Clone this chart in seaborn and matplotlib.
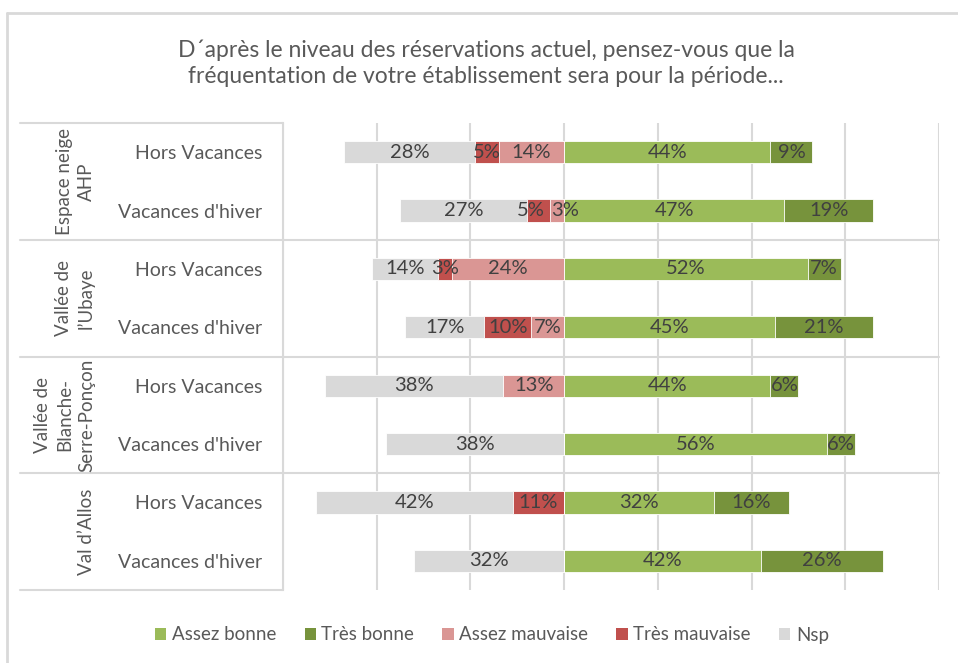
import numpy as np
import pandas as pd
import matplotlib
matplotlib.use('Agg')
import matplotlib.pyplot as plt
import matplotlib.transforms as mtransforms
from matplotlib.patches import Patch
import seaborn as sns

# data (percent)
periods = ["Hors Vacances", "Vacances d'hiver"] * 4
groups = ["Espace neige\nAHP", "Vallée de\nl’Ubaye", "Vallée de\nBlanche-\nSerre-Ponçon", "Val d’Allos"]
assez_bonne = [44, 47, 52, 45, 44, 56, 32, 42]
tres_bonne = [9, 19, 7, 21, 6, 6, 16, 26]
assez_mauvaise = [14, 3, 24, 7, 13, 0, 0, 0]
tres_mauvaise = [5, 5, 3, 10, 0, 0, 11, 0]
nsp = [28, 27, 14, 17, 38, 38, 42, 32]

title = "D´après le niveau des réservations actuel, pensez-vous que la\nfréquentation de votre établissement sera pour la période..."

colors = {
    "Assez bonne": "#9BBB59",
    "Très bonne": "#77933C",
    "Assez mauvaise": "#DA9694",
    "Très mauvaise": "#C0504D",
    "Nsp": "#D9D9D9",
}

sns.set_theme(style="white")
plt.rcParams['font.family'] = ['Lato', 'DejaVu Sans']

W, H = 958, 663
fig = plt.figure(figsize=(W / 100, H / 100), dpi=100)

def fx(px):
    return px / W

def fy(py):
    return 1 - py / H

ax = fig.add_axes([fx(283), fy(590), fx(939) - fx(283), fy(123) - fy(590)])

df = pd.DataFrame({
    "row": list(range(len(periods))),
    "ab": assez_bonne, "tb": tres_bonne,
    "am": assez_mauvaise, "tm": tres_mauvaise, "nsp": nsp,
})
df["pos_total"] = df["ab"] + df["tb"]
df["neg_am"] = -df["am"]
df["neg_tm"] = -(df["am"] + df["tm"])
df["neg_all"] = -(df["am"] + df["tm"] + df["nsp"])

# overlapping cumulative bars -> stacked look
layers = [
    ("pos_total", "Très bonne"),
    ("ab", "Assez bonne"),
    ("neg_all", "Nsp"),
    ("neg_tm", "Très mauvaise"),
    ("neg_am", "Assez mauvaise"),
]
for col, name in layers:
    sns.barplot(data=df, x=col, y="row", orient="h", color=colors[name],
                saturation=1, width=0.38, edgecolor="white", linewidth=0.6, ax=ax)

# segment labels, pushed apart a little when two small ones collide
lab_kw = dict(ha="center", va="center", fontsize=14.5, color="#404040")
char_w = 2.4  # rough label width per character, in % units
for i, r in df.iterrows():
    segs = [
        (r["neg_all"], -(r["am"] + r["tm"])),
        (-(r["am"] + r["tm"]), -r["am"]),
        (-r["am"], 0),
        (0, r["ab"]),
        (r["ab"], r["ab"] + r["tb"]),
    ]
    labs = [[(a + b) / 2, f"{int(round(b - a))}%"] for a, b in segs if b - a > 0]
    for j in range(1, len(labs)):
        need = (len(labs[j - 1][1]) + len(labs[j][1])) * char_w / 2 + 2.5
        gap = labs[j][0] - labs[j - 1][0]
        if gap < need - 0.5:
            shift = (need - gap) / 2
            labs[j - 1][0] -= shift
            labs[j][0] += shift
    for xc, txt in labs:
        ax.text(xc, i, txt, **lab_kw)

ax.set_xlim(-60, 80)
ax.set_ylim(len(periods) - 0.5, -0.5)
ax.set_xticks(np.arange(-60, 81, 20))
ax.set_xticklabels([])
ax.tick_params(axis="x", length=0)
ax.set_yticks(range(len(periods)))
ax.set_yticklabels(periods, fontsize=14, color="#595959")
ax.tick_params(axis="y", length=0, pad=15)
ax.set_xlabel("")
ax.set_ylabel("")
ax.grid(axis="x", color="#D9D9D9", linewidth=1.5)
ax.set_axisbelow(True)
for s in ["top", "right", "bottom"]:
    ax.spines[s].set_visible(False)
ax.spines["left"].set_color("#D9D9D9")
ax.spines["left"].set_linewidth(1.5)

# table-like separators on the category axis
tr = mtransforms.blended_transform_factory(fig.transFigure, ax.transData)
line_kw = dict(color="#D9D9D9", linewidth=1.5, clip_on=False, transform=tr)
for yv in [-0.5, len(periods) - 0.5]:
    ax.plot([fx(20), fx(283)], [yv, yv], **line_kw)
for yv in [1.5, 3.5, 5.5]:
    ax.plot([fx(20), fx(939)], [yv, yv], **line_kw)

# group labels
for k, g in enumerate(groups):
    yc = ax.transData.transform((0, 2 * k + 0.5))[1]
    fig.text(fx(95), yc / H, g, rotation=90, ha="right", va="center",
             multialignment="center", fontsize=13.5, color="#595959", linespacing=1.35)

fig.text(fx(486), fy(63), title, ha="center", va="center", fontsize=16.5,
         color="#595959", linespacing=1.3)

order = ["Assez bonne", "Très bonne", "Assez mauvaise", "Très mauvaise", "Nsp"]
handles = [Patch(facecolor=colors[n], edgecolor="none", label=n) for n in order]
leg = fig.legend(handles=handles, loc="center", bbox_to_anchor=(fx(492), fy(635)),
                 ncol=5, frameon=False, fontsize=13.5, handlelength=0.6, handleheight=0.6,
                 handletextpad=0.3, columnspacing=1.5)
for t in leg.get_texts():
    t.set_color("#595959")

# outer chart border (top/left visible in the reference)
fig.add_artist(plt.Line2D([fx(7), 1], [fy(13), fy(13)], color="#D9D9D9", linewidth=2, transform=fig.transFigure))
fig.add_artist(plt.Line2D([fx(7), fx(7)], [fy(13), 0], color="#D9D9D9", linewidth=2, transform=fig.transFigure))

fig.savefig("out.png", dpi=100)
